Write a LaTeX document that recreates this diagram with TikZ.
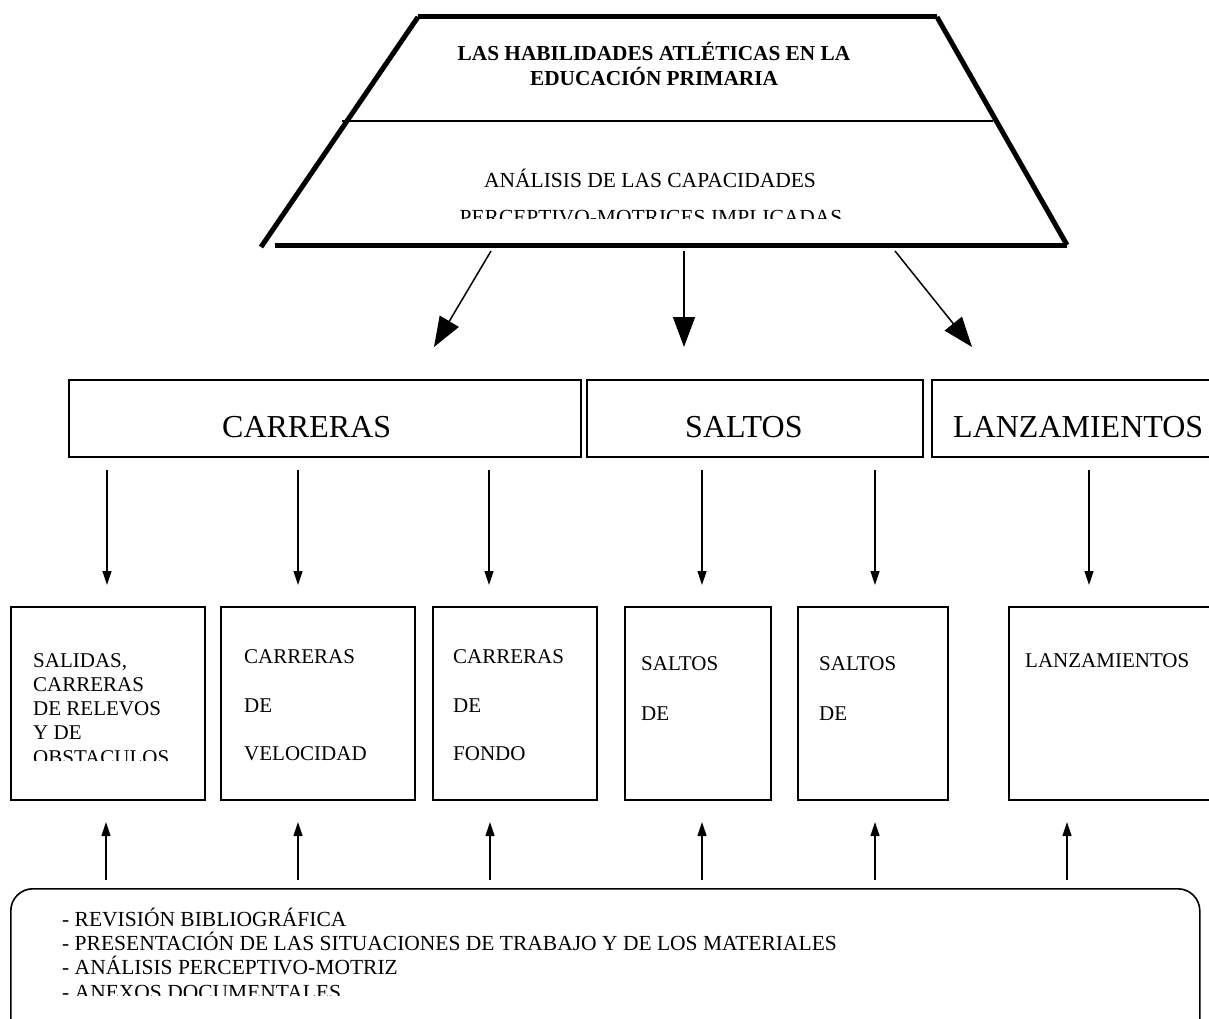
\documentclass[tikz,border=0pt]{standalone}
\usepackage{fontspec}
\setmainfont{Liberation Serif}
\usetikzlibrary{arrows.meta}
\begin{document}
\begin{tikzpicture}[x=1pt,y=-1pt,
  thick line/.style={line width=5pt},
  boxframe/.style={draw, line width=1.6pt, inner sep=0pt, anchor=north west},
  bigtxt/.style={font=\fontsize{32}{32}\selectfont, inner sep=0pt, anchor=base west},
  smalltxt/.style={font=\fontsize{21}{21}\selectfont, inner sep=0pt, anchor=base west},
  toptxt/.style={font=\fontsize{21.5}{21.5}\selectfont, inner sep=0pt, anchor=base},
  bottxt/.style={font=\fontsize{21.5}{21.5}\selectfont, inner sep=0pt, anchor=base west},
  bigarrow/.style={line width=1.5pt, -{Triangle[length=30pt,width=22pt]}},
  smallarrow/.style={line width=1.2pt, -{Triangle[length=14pt,width=9pt]}}
]
\useasboundingbox[fill=white] (0,0) rectangle (1209,1019);

% trapezoid
\coordinate (tl) at (418,17);
\coordinate (tr) at (937,17);
\coordinate (bl) at (261,247);
\coordinate (br) at (1067,245);
\coordinate (bls) at (275,245);
\draw[thick line] (tl) -- (tr);
\draw[thick line] (tl) -- (bl);
\draw[thick line] (tr) -- (br);
\draw[thick line] (bls) -- (br);
\coordinate (ml) at (342,121);
\coordinate (mr) at (993,121);
\draw[line width=1.2pt] (ml) -- (mr);

\node[toptxt, font=\fontsize{21.3}{21.3}\selectfont\bfseries] (t1) at (654,61) {LAS HABILIDADES ATLÉTICAS EN LA};
\node[toptxt, font=\fontsize{21.3}{21.3}\selectfont\bfseries] (t2) at (654,86) {EDUCACIÓN PRIMARIA};
\node[toptxt] (a1) at (650,188) {ANÁLISIS DE LAS CAPACIDADES};
\begin{scope}
\clip (0,0) rectangle (1209,218.5);
\node[toptxt] (a2) at (651,224) {PERCEPTIVO-MOTRICES IMPLICADAS};
\end{scope}

% big arrows
\coordinate (s1) at (491,251); \coordinate (e1) at (434,347);
\coordinate (s2) at (684,251); \coordinate (e2) at (684,347);
\coordinate (s3) at (895,251); \coordinate (e3) at (972,347);
\draw[bigarrow] (s1) -- (e1);
\draw[bigarrow] (s2) -- (e2);
\draw[bigarrow] (s3) -- (e3);

% row 1 boxes
\node[boxframe, minimum width=512pt, minimum height=77pt] (bc) at (68,379) {};
\node[boxframe, minimum width=336pt, minimum height=77pt] (bs) at (586,379) {};
\node[boxframe, minimum width=290pt, minimum height=77pt] (bl2) at (931,379) {};
\node[bigtxt] (tc) at (222,437) {CARRERAS};
\node[bigtxt] (ts) at (685,437) {SALTOS};
\node[bigtxt] (tlz) at (953,437) {LANZAMIENTOS};

% down arrows
\foreach \i/\x in {1/107,2/298,3/489,4/702,5/875,6/1089}{
  \coordinate (d\i a) at (\x,470);
  \coordinate (d\i b) at (\x,585);
  \draw[smallarrow] (d\i a) -- (d\i b);
}

% row 2 boxes
\node[boxframe, minimum width=194pt, minimum height=193pt] (r1) at (10,606) {};
\node[boxframe, minimum width=194pt, minimum height=193pt] (r2) at (220,606) {};
\node[boxframe, minimum width=164pt, minimum height=193pt] (r3) at (432,606) {};
\node[boxframe, minimum width=146pt, minimum height=193pt] (r4) at (624,606) {};
\node[boxframe, minimum width=150pt, minimum height=193pt] (r5) at (797,606) {};
\node[boxframe, minimum width=210pt, minimum height=193pt] (r6) at (1008,606) {};

\node[smalltxt] (r1a) at (33,667) {SALIDAS,};
\node[smalltxt] (r1b) at (33,691) {CARRERAS};
\node[smalltxt] (r1c) at (33,715) {DE RELEVOS};
\node[smalltxt] (r1d) at (33,739) {Y DE};
\begin{scope}
\clip (0,600) rectangle (1209,760.5);
\node[smalltxt] (r1e) at (33,764) {OBSTACULOS};
\end{scope}

\node[smalltxt] (r2a) at (244,663) {CARRERAS};
\node[smalltxt] (r2b) at (244,712) {DE};
\node[smalltxt] (r2c) at (244,760) {VELOCIDAD};
\node[smalltxt] (r3a) at (453,663) {CARRERAS};
\node[smalltxt] (r3b) at (453,712) {DE};
\node[smalltxt] (r3c) at (453,760) {FONDO};
\node[smalltxt] (r4a) at (641,670) {SALTOS};
\node[smalltxt] (r4b) at (641,720) {DE};
\node[smalltxt] (r5a) at (819,670) {SALTOS};
\node[smalltxt] (r5b) at (819,720) {DE};
\node[smalltxt] (r6a) at (1025,667) {LANZAMIENTOS};

% up arrows
\foreach \i/\x in {1/106,2/298,3/490,4/702,5/875,6/1067}{
  \coordinate (u\i a) at (\x,880);
  \coordinate (u\i b) at (\x,822);
  \draw[smallarrow] (u\i a) -- (u\i b);
}

% bottom rounded box
\node[draw, line width=1.6pt, rounded corners=22pt, inner sep=0pt, anchor=north west,
      minimum width=1189pt, minimum height=160pt] (bot) at (10,888) {};
\node[bottxt] (b1) at (62,926) {- REVISIÓN BIBLIOGRÁFICA};
\node[bottxt] (b2) at (62,950) {- PRESENTACIÓN DE LAS SITUACIONES DE TRABAJO Y DE LOS MATERIALES};
\node[bottxt] (b3) at (62,974) {- ANÁLISIS PERCEPTIVO-MOTRIZ};
\begin{scope}
\clip (0,880) rectangle (1209,995);
\node[bottxt] (b4) at (62,999) {- ANEXOS DOCUMENTALES};
\end{scope}
\end{tikzpicture}
\end{document}
